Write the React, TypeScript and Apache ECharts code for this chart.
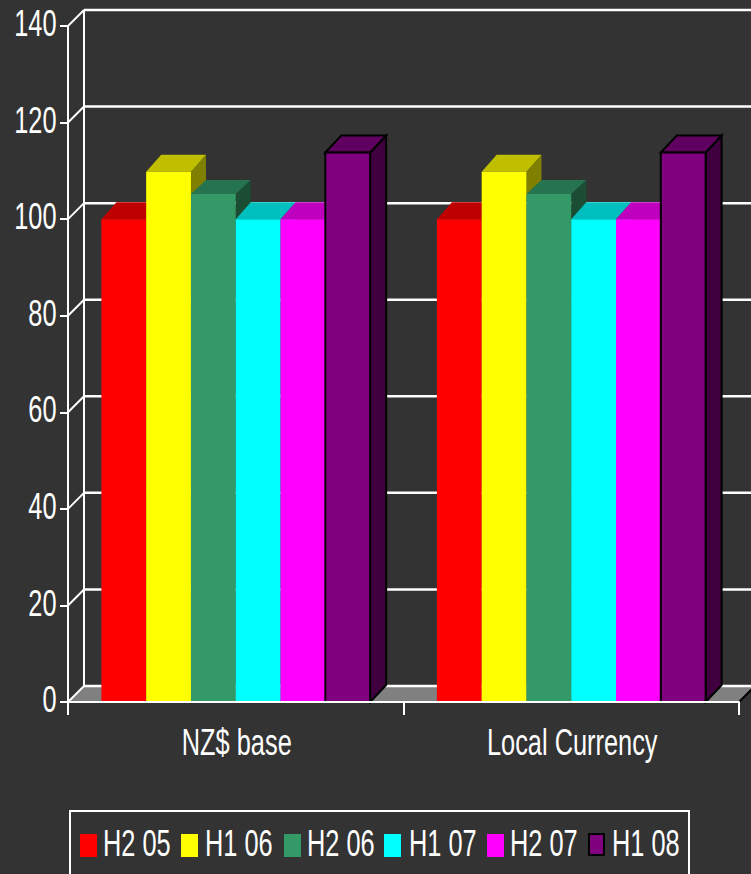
import React, { useEffect, useRef } from "react";
import * as echarts from "echarts";

const categories = ["NZ$ base", "Local Currency"];
const periods = ["H2 05", "H1 06", "H2 06", "H1 07", "H2 07", "H1 08"];
const h205 = [100, 100];
const h106 = [109.8, 109.8];
const h206 = [105.2, 105.2];
const h107 = [100, 100];
const h207 = [100, 100];
const h108 = [113.8, 113.8];
const periodValues = [h205, h106, h206, h107, h207, h108];
const yTicks = [0, 20, 40, 60, 80, 100, 120, 140];

const faceColors = ["#ff0000", "#ffff00", "#339966", "#00ffff", "#ff00ff", "#800080"];
const topColors = ["#bf0000", "#bfbf00", "#267350", "#00bfbf", "#bf00bf", "#600060"];
const sideColors = ["#800000", "#808000", "#1a4d33", "#008080", "#800080", "#400040"];
const edgeColors = [null, null, null, null, null, "#000000"];
const barRise = [17, 17, 14, 17, 17, 17];
const legendSwatchX = [80, 181, 284, 384, 487, 589];
const legendTextX = [103, 205, 307, 409, 510, 612];

const FONT = "'Liberation Sans', Arial, sans-serif";
const TEXT_SQUEEZE = 0.705;
const FONT_SIZE = 36;
const WHITE = "#ffffff";
const WALL_DX = 16;
const WALL_DY = 16;
const BAR_DX = 15;
const BAR_SHARE = 0.1335;

// Side walls, floor and gridlines of the 3D box, one item per value tick.
function renderWall(params: any, api: any) {
  const tick = api.value(1);
  const y = api.coord([0, tick])[1];
  const box = params.coordSys;
  const left = box.x;
  const right = box.x + box.width;
  const line = (x1: number, y1: number, x2: number, y2: number, stroke = WHITE, lineWidth = 2) => ({
    type: "line",
    shape: { x1, y1, x2, y2 },
    style: { stroke, lineWidth },
  });
  const children: any[] = [];
  if (tick === 0) {
    children.push({
      type: "polygon",
      shape: {
        points: [
          [left, y],
          [left + WALL_DX, y - WALL_DY],
          [right + WALL_DX, y - WALL_DY],
          [right, y],
        ],
      },
      style: { fill: "#808080" },
    });
    children.push(line(right, y, right + WALL_DX, y - WALL_DY, "#000000"));
    children.push(line(left + WALL_DX, box.y - WALL_DY, left + WALL_DX, y - WALL_DY));
  }
  children.push(line(left, y, left + WALL_DX, y - WALL_DY));
  children.push(line(left + WALL_DX, y - WALL_DY, right + WALL_DX, y - WALL_DY, WHITE, 2.5));
  return { type: "group", children };
}

function makeBarRenderer(seriesIndex: number) {
  return (_params: any, api: any) => {
    const center = api.coord([api.value(0), 0]);
    const topPoint = api.coord([api.value(0), api.value(1)]);
    const barWidth = api.size([1, 0])[0] * BAR_SHARE;
    const x0 = center[0] - 3 * barWidth + seriesIndex * barWidth;
    const x1 = x0 + barWidth;
    const yBase = center[1];
    const yTop = topPoint[1];
    const edge = edgeColors[seriesIndex];
    const stroke = edge ? { stroke: edge, lineWidth: 2 } : {};
    const depth = edge ? BAR_DX + 1 : BAR_DX;
    const rise = barRise[seriesIndex];
    return {
      type: "group",
      children: [
        {
          type: "polygon",
          shape: {
            points: [
              [x1, yBase],
              [x1 + depth, yBase - rise],
              [x1 + depth, yTop - rise],
              [x1, yTop],
            ],
          },
          style: { fill: sideColors[seriesIndex], ...stroke },
        },
        {
          type: "polygon",
          shape: {
            points: [
              [x0, yTop],
              [x0 + depth, yTop - rise],
              [x1 + depth, yTop - rise],
              [x1, yTop],
            ],
          },
          style: { fill: topColors[seriesIndex], ...stroke },
        },
        {
          type: "rect",
          shape: { x: x0, y: yTop, width: barWidth, height: yBase - yTop },
          style: { fill: faceColors[seriesIndex], ...stroke },
        },
      ],
    };
  };
}

const squeezedText = (text: string, x: number, y: number, align: string) => ({
  type: "text",
  x,
  y,
  scaleX: TEXT_SQUEEZE,
  style: {
    text,
    fill: WHITE,
    fontSize: FONT_SIZE,
    fontFamily: FONT,
    align,
    verticalAlign: "middle",
  },
});

function renderValueLabel(params: any, api: any) {
  const y = api.coord([0, api.value(1)])[1];
  return squeezedText(String(api.value(1)), params.coordSys.x - 11.5, y - 2, "right");
}

function renderCategoryLabel(params: any, api: any) {
  const x = api.coord([api.value(0), 0])[0];
  const bottom = params.coordSys.y + params.coordSys.height;
  return squeezedText(categories[api.value(0)], x + 1, bottom + 41, "center");
}

function legendGraphics() {
  const items: any[] = [
    {
      type: "rect",
      shape: { x: 70, y: 811, width: 619, height: 90 },
      style: { fill: "transparent", stroke: WHITE, lineWidth: 2 },
    },
  ];
  periods.forEach((name, i) => {
    const edge = edgeColors[i];
    items.push({
      type: "rect",
      shape: { x: legendSwatchX[i], y: 834, width: edge ? 15 : 17, height: edge ? 21 : 23 },
      style: { fill: faceColors[i], stroke: edge ?? undefined, lineWidth: edge ? 2 : 0 },
    });
    items.push(squeezedText(name, legendTextX[i], 843.5, "left"));
  });
  return items;
}

export default function App() {
  const ref = useRef<HTMLDivElement>(null);

  useEffect(() => {
    document.body.style.margin = "0";
    document.body.style.overflow = "hidden";
    const chart = echarts.init(ref.current!, undefined, { renderer: "svg" });
    chart.setOption({
      animation: false,
      backgroundColor: "#333333",
      grid: { left: 68, right: 12, top: 26, height: 676 },
      xAxis: {
        type: "category",
        data: categories,
        z: 10,
        axisLine: { lineStyle: { color: WHITE, width: 2 } },
        axisTick: { show: true, length: 13, lineStyle: { color: WHITE, width: 2 } },
        axisLabel: { show: false },
        splitLine: { show: false },
      },
      yAxis: {
        type: "value",
        min: 0,
        max: 140,
        interval: 20,
        z: 10,
        axisLine: { show: true, lineStyle: { color: WHITE, width: 2 } },
        axisTick: { show: true, length: 8, lineStyle: { color: WHITE, width: 2 } },
        axisLabel: { show: false },
        splitLine: { show: false },
      },
      graphic: legendGraphics(),
      series: [
        {
          type: "custom",
          name: "walls",
          z: 1,
          silent: true,
          renderItem: renderWall,
          data: yTicks.map((t) => [0, t]),
        },
        ...periods.map((name, i) => ({
          type: "custom",
          name,
          z: 2,
          silent: true,
          renderItem: makeBarRenderer(i),
          data: periodValues[i].map((v, c) => [c, v]),
        })),
        {
          type: "custom",
          name: "value labels",
          z: 3,
          silent: true,
          renderItem: renderValueLabel,
          data: yTicks.map((t) => [0, t]),
        },
        {
          type: "custom",
          name: "category labels",
          z: 3,
          silent: true,
          renderItem: renderCategoryLabel,
          data: categories.map((_, c) => [c, 0]),
        },
      ],
    });
    return () => chart.dispose();
  }, []);

  return <div ref={ref} style={{ width: 751, height: 874 }} />;
}
